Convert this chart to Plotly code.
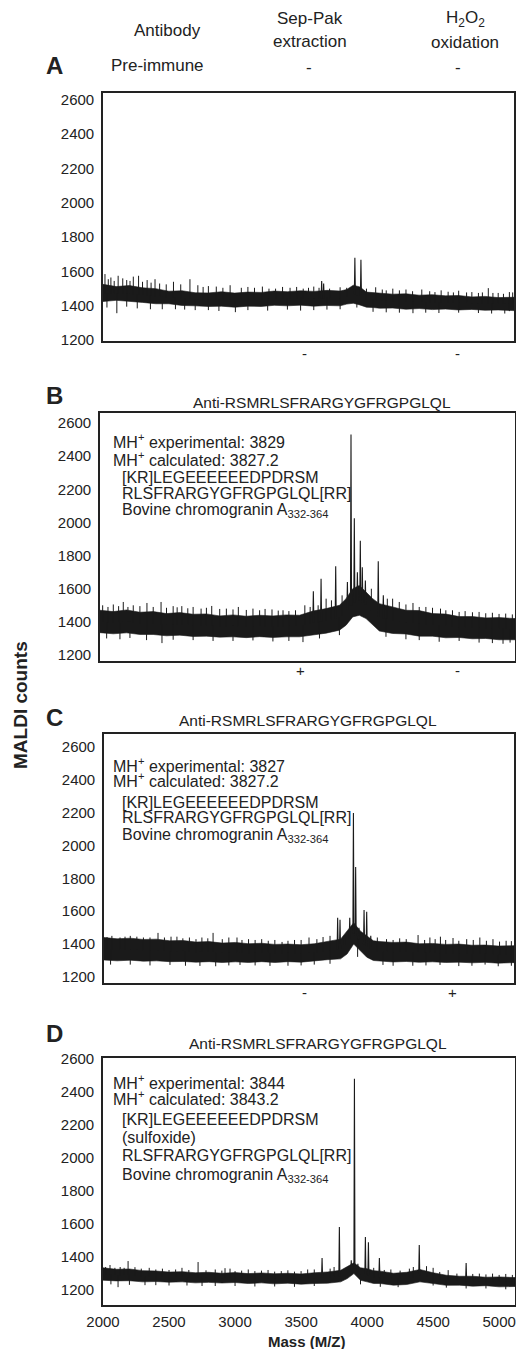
import plotly.graph_objects as go
import numpy as np

# ---------------- data ----------------
MASS = [2000, 2100, 2200, 2300, 2400, 2500, 2600, 2700, 2800, 2900, 3000, 3100,
        3200, 3300, 3400, 3500, 3600, 3700, 3800, 3850, 3900, 3950, 4000, 4050,
        4100, 4200, 4300, 4400, 4500, 4600, 4700, 4800, 4900, 5000, 5120]
X_TICKS = [2000, 2500, 3000, 3500, 4000, 4500, 5000]
Y_TICKS = [1200, 1400, 1600, 1800, 2000, 2200, 2400, 2600]

# Panel A  (pre-immune)
A_UPPER = [1525, 1512, 1518, 1505, 1500, 1485, 1488, 1476, 1475, 1482, 1474, 1480,
           1478, 1486, 1482, 1488, 1484, 1490, 1486, 1495, 1520, 1510, 1480, 1478,
           1476, 1468, 1470, 1462, 1465, 1458, 1460, 1452, 1455, 1448, 1450]
A_LOWER = [1425, 1432, 1424, 1420, 1412, 1412, 1402, 1400, 1396, 1398, 1392, 1398,
           1396, 1403, 1400, 1404, 1398, 1402, 1400, 1410, 1415, 1405, 1392, 1390,
           1386, 1387, 1380, 1384, 1378, 1381, 1376, 1379, 1374, 1376, 1372]
A_PEAKS = [(3660, 1545), (3675, 1530), (3912, 1680), (3958, 1668)]
A_SPIKES_UP = [(2015, 1585), (2040, 1555), (2060, 1565), (2085, 1545), (2115, 1575),
               (2150, 1560), (2180, 1550), (2205, 1545), (2230, 1570), (2270, 1575),
               (2300, 1540), (2335, 1550), (2365, 1535), (2395, 1555), (2430, 1530),
               (2480, 1525), (2535, 1540), (2590, 1525), (2660, 1555), (2720, 1520),
               (2760, 1510), (2800, 1515), (2860, 1512), (2910, 1505), (2965, 1520),
               (3050, 1505), (3100, 1510), (3150, 1505), (3210, 1512), (3260, 1500),
               (3310, 1500), (3363, 1510), (3420, 1505), (3470, 1510), (3520, 1500),
               (3560, 1505), (3600, 1512), (3640, 1505), (3720, 1500), (3800, 1508),
               (3850, 1505), (4000, 1500), (4070, 1508), (4120, 1495), (4150, 1490),
               (4200, 1500), (4250, 1490), (4300, 1495), (4350, 1485), (4420, 1495),
               (4480, 1485), (4520, 1480), (4567, 1490), (4620, 1482), (4660, 1478),
               (4700, 1488), (4760, 1478), (4800, 1480), (4850, 1475), (4880, 1478),
               (4925, 1503), (4960, 1475), (5000, 1475), (5040, 1470), (5085, 1480),
               (5110, 1478)]
A_SPIKES_DOWN = [(2030, 1390), (2105, 1357), (2180, 1395), (2260, 1385), (2360, 1380),
                 (2450, 1380), (2550, 1380), (2620, 1378), (2700, 1375), (2800, 1375),
                 (2880, 1370), (3005, 1363), (3100, 1375), (3250, 1372), (3400, 1378),
                 (3500, 1372), (3600, 1375), (3700, 1378), (3800, 1380), (3927, 1390),
                 (4050, 1365), (4150, 1362), (4250, 1360), (4353, 1357), (4450, 1360),
                 (4550, 1358), (4700, 1360), (4850, 1358), (4950, 1355), (5050, 1355),
                 (5085, 1369)]

# Panel B  (anti-peptide, Sep-Pak +, H2O2 -)
B_UPPER = [1470, 1462, 1472, 1458, 1462, 1450, 1456, 1446, 1448, 1436, 1442, 1434,
           1440, 1436, 1442, 1440, 1465, 1480, 1500, 1540, 1600, 1620, 1580, 1540,
           1510, 1490, 1470, 1468, 1450, 1447, 1432, 1432, 1424, 1426, 1420]
B_LOWER = [1335, 1328, 1334, 1324, 1324, 1316, 1320, 1312, 1314, 1308, 1310, 1305,
           1311, 1306, 1310, 1310, 1322, 1332, 1350, 1380, 1430, 1440, 1420, 1380,
           1345, 1330, 1327, 1314, 1314, 1304, 1306, 1298, 1300, 1292, 1292]
B_PEAKS = [(3604, 1585), (3662, 1660), (3772, 1735), (3860, 1640), (3887, 2530),
           (3912, 2025), (3935, 1700), (3957, 1890), (3972, 1730), (3995, 1650),
           (4092, 1765), (4130, 1560)]
B_SPIKES_UP = [(2020, 1500), (2060, 1490), (2100, 1505), (2140, 1495), (2175, 1520),
               (2210, 1490), (2250, 1500), (2300, 1495), (2353, 1514), (2400, 1490),
               (2459, 1520), (2500, 1485), (2550, 1495), (2580, 1488), (2615, 1495),
               (2660, 1482), (2700, 1490), (2760, 1480), (2800, 1485), (2840, 1496),
               (2900, 1478), (2950, 1480), (3000, 1475), (3040, 1490), (3100, 1472),
               (3150, 1480), (3200, 1470), (3241, 1478), (3293, 1475), (3340, 1468),
               (3376, 1470), (3420, 1465), (3470, 1470), (3540, 1500), (3580, 1490),
               (3640, 1500), (3700, 1540), (3740, 1530), (3820, 1560), (4040, 1600),
               (4160, 1540), (4200, 1540), (4250, 1520), (4300, 1505), (4353, 1514),
               (4400, 1490), (4450, 1490), (4500, 1485), (4560, 1480), (4600, 1470),
               (4650, 1470), (4700, 1460), (4745, 1465), (4800, 1458), (4850, 1460),
               (4900, 1452), (4950, 1455), (5000, 1448), (5050, 1450), (5100, 1445)]
B_SPIKES_DOWN = [(2050, 1300), (2150, 1295), (2225, 1303), (2350, 1290), (2466, 1272),
                 (2550, 1292), (2700, 1290), (2850, 1285), (3000, 1285), (3150, 1288),
                 (3300, 1282), (3420, 1285), (3526, 1278), (3650, 1300), (3800, 1320),
                 (4150, 1310), (4300, 1295), (4400, 1290), (4550, 1280), (4700, 1285),
                 (4850, 1275), (4950, 1272), (5030, 1268), (5083, 1275)]

# Panel C  (anti-peptide, Sep-Pak -, H2O2 +)
C_UPPER = [1440, 1432, 1436, 1428, 1430, 1420, 1422, 1412, 1415, 1406, 1410, 1402,
           1405, 1398, 1400, 1396, 1402, 1415, 1430, 1480, 1530, 1480, 1450, 1420,
           1415, 1410, 1412, 1402, 1404, 1398, 1400, 1393, 1394, 1388, 1390]
C_LOWER = [1303, 1298, 1302, 1296, 1298, 1293, 1294, 1290, 1293, 1288, 1292, 1288,
           1293, 1288, 1293, 1290, 1297, 1305, 1310, 1340, 1400, 1360, 1320, 1300,
           1296, 1291, 1294, 1289, 1292, 1288, 1290, 1286, 1289, 1284, 1287]
C_PEAKS = [(3778, 1560), (3796, 1548), (3830, 1450), (3870, 1560), (3898, 2198),
           (3915, 1870), (3940, 1500), (3979, 1608), (3999, 1597), (4030, 1450)]
C_SPIKES_UP = [(2023, 1443), (2060, 1450), (2122, 1440), (2160, 1445), (2200, 1450),
               (2250, 1445), (2300, 1440), (2350, 1440), (2411, 1468), (2460, 1440),
               (2510, 1445), (2555, 1445), (2600, 1435), (2650, 1440), (2700, 1430),
               (2745, 1440), (2790, 1435), (2830, 1468), (2900, 1430), (2950, 1440),
               (3012, 1440), (3050, 1425), (3100, 1430), (3150, 1425), (3200, 1430),
               (3250, 1420), (3300, 1425), (3355, 1413), (3400, 1420), (3450, 1425),
               (3500, 1425), (3560, 1440), (3620, 1430), (3667, 1443), (3720, 1450),
               (4080, 1440), (4150, 1430), (4200, 1425), (4250, 1435), (4300, 1430),
               (4390, 1455), (4440, 1425), (4480, 1440), (4520, 1430), (4560, 1445),
               (4600, 1425), (4656, 1437), (4700, 1420), (4760, 1430), (4810, 1425),
               (4860, 1440), (4910, 1420), (4960, 1430), (5010, 1415), (5060, 1420),
               (5100, 1418)]
C_SPIKES_DOWN = [(2050, 1275), (2200, 1275), (2350, 1270), (2502, 1273), (2620, 1268),
                 (2730, 1267), (2850, 1265), (2950, 1270), (3035, 1273), (3150, 1270),
                 (3263, 1267), (3400, 1268), (3500, 1270), (3600, 1275), (3720, 1280),
                 (3930, 1322), (4123, 1273), (4200, 1268), (4350, 1268), (4450, 1270),
                 (4557, 1273), (4700, 1266), (4800, 1268), (4900, 1275), (5000, 1265),
                 (5100, 1268)]

# Panel D  (sulfoxide)
D_UPPER = [1335, 1326, 1328, 1318, 1316, 1309, 1312, 1305, 1308, 1302, 1306, 1300,
           1304, 1299, 1302, 1298, 1305, 1310, 1320, 1340, 1365, 1335, 1330, 1318,
           1315, 1302, 1308, 1325, 1305, 1290, 1284, 1284, 1278, 1280, 1276]
D_LOWER = [1260, 1256, 1257, 1250, 1252, 1248, 1250, 1244, 1247, 1243, 1246, 1240,
           1244, 1238, 1242, 1236, 1240, 1242, 1250, 1270, 1300, 1260, 1250, 1240,
           1240, 1230, 1234, 1250, 1240, 1229, 1230, 1224, 1227, 1220, 1222]
D_PEAKS = [(3659, 1394), (3790, 1582), (3880, 1380), (3904, 2479), (3930, 1360),
           (3987, 1521), (4010, 1490), (4093, 1394), (4395, 1473), (4750, 1364)]
D_SPIKES_UP = [(2020, 1340), (2053, 1352), (2090, 1335), (2130, 1340), (2160, 1335),
               (2190, 1376), (2242, 1339), (2290, 1330), (2350, 1335), (2400, 1325),
               (2450, 1330), (2500, 1322), (2550, 1325), (2598, 1335), (2650, 1322),
               (2720, 1370), (2780, 1320), (2850, 1325), (2900, 1318), (2924, 1333),
               (2962, 1330), (3000, 1315), (3050, 1318), (3100, 1325), (3150, 1315),
               (3200, 1318), (3250, 1322), (3300, 1312), (3350, 1315), (3400, 1320),
               (3450, 1312), (3500, 1315), (3550, 1325), (3600, 1325), (3720, 1330),
               (3750, 1340), (4050, 1335), (4130, 1322), (4180, 1325), (4250, 1318),
               (4320, 1330), (4350, 1340), (4450, 1345), (4500, 1335), (4550, 1310),
               (4614, 1321), (4680, 1300), (4800, 1298), (4850, 1300), (4900, 1295),
               (4950, 1300), (5000, 1292), (5050, 1298), (5100, 1292)]
D_SPIKES_DOWN = [(2060, 1235), (2114, 1218), (2200, 1232), (2318, 1230), (2400, 1230),
                 (2500, 1228), (2636, 1228), (2750, 1225), (2850, 1225), (3000, 1225),
                 (3150, 1222), (3300, 1222), (3450, 1220), (3600, 1225), (3950, 1235),
                 (4100, 1220), (4235, 1218), (4500, 1228), (4600, 1215), (4750, 1210),
                 (4900, 1210), (5050, 1205)]

# ---------------- layout geometry (pixels) ----------------
W, H = 516, 1349
# (left, right, top, bottom) of each plot box, and y range
BOXES = [(103, 514, 93, 341), (100, 515, 413, 661), (104, 514, 734, 983), (103, 515, 1058, 1305)]
Y_RANGES = [(1195, 2640), (1164, 2660), (1163, 2679), (1110, 2605)]
X_RANGE = (2000, 5120)

PANELS = [
    (A_UPPER, A_LOWER, A_PEAKS, A_SPIKES_UP, A_SPIKES_DOWN),
    (B_UPPER, B_LOWER, B_PEAKS, B_SPIKES_UP, B_SPIKES_DOWN),
    (C_UPPER, C_LOWER, C_PEAKS, C_SPIKES_UP, C_SPIKES_DOWN),
    (D_UPPER, D_LOWER, D_PEAKS, D_SPIKES_UP, D_SPIKES_DOWN),
]

FONT = "Liberation Sans, Arial, Helvetica, sans-serif"
INK = "#1a1a1a"

fig = go.Figure()

for i, (up, lo, peaks, sp_up, sp_dn) in enumerate(PANELS):
    n = "" if i == 0 else str(i + 1)
    xa, ya = "x" + n, "y" + n
    center = (np.array(up) + np.array(lo)) / 2.0

    # noise band
    fig.add_trace(go.Scatter(
        x=MASS + MASS[::-1], y=up + lo[::-1], mode="lines", fill="toself",
        fillcolor=INK, line=dict(color=INK, width=0.6),
        xaxis=xa, yaxis=ya, hoverinfo="skip", showlegend=False))

    # noise spikes (up and down)
    sx, sy = [], []
    for m, v in sp_up + sp_dn:
        b = float(np.interp(m, MASS, center))
        sx += [m, m, None]
        sy += [b, v, None]
    fig.add_trace(go.Scatter(
        x=sx, y=sy, mode="lines", line=dict(color=INK, width=1),
        xaxis=xa, yaxis=ya, hoverinfo="skip", showlegend=False))

    # peaks
    px, py = [], []
    for m, v in peaks:
        b = float(np.interp(m, MASS, center))
        px += [m - 4, m, m + 4, None]
        py += [b, v, b, None]
    fig.add_trace(go.Scatter(
        x=px, y=py, mode="lines", line=dict(color=INK, width=1.1),
        xaxis=xa, yaxis=ya, hoverinfo="skip", showlegend=False))

    l, r, t, b = BOXES[i]
    axis_common = dict(showline=True, mirror=True, linecolor="#222", linewidth=1.6,
                       ticks="", showgrid=False, zeroline=False, automargin=False,
                       tickfont=dict(family=FONT, size=15, color="#222"))
    show_x = (i == 3)
    fig.layout["xaxis" + n] = dict(
        domain=[l / W, r / W], range=list(X_RANGE), anchor=ya,
        tickvals=X_TICKS if show_x else [], showticklabels=show_x,
        ticklabelstandoff=2, **axis_common)
    fig.layout["yaxis" + n] = dict(
        domain=[1 - b / H, 1 - t / H], range=list(Y_RANGES[i]), anchor=xa,
        tickvals=Y_TICKS, ticklabelstandoff=4, **axis_common)

# ---------------- annotations ----------------
def txt(s, x, y, size=15, bold=False, xanchor="center", textangle=0):
    if bold:
        s = "<b>" + s + "</b>"
    fig.add_annotation(text=s, x=x / W, y=1 - y / H, xref="paper", yref="paper",
                       xanchor=xanchor, yanchor="middle", showarrow=False,
                       textangle=textangle,
                       font=dict(family=FONT, size=size, color="#222"))

# header
txt("Antibody", 167, 30, size=17)
txt("Sep-Pak", 310, 18, size=17)
txt("extraction", 310, 41, size=17)
txt("H<sub>2</sub>O<sub>2</sub>", 465, 19, size=17)
txt("oxidation", 465, 43, size=17)

# panel letters
for letter, y in [("A", 65), ("B", 395), ("C", 717), ("D", 1033)]:
    txt(letter, 54, y, size=24, bold=True)

txt("Pre-immune", 157, 65, size=17)
txt("-", 309, 68, size=17)
txt("-", 458, 68, size=17)

# +/- markers under panels
txt("-", 304, 353)
txt("-", 457, 353)
txt("+", 300, 670)
txt("-", 457, 670)
txt("-", 304, 992)
txt("+", 452, 992)

# titles
TITLE = "Anti-RSMRLSFRARGYGFRGPGLQL"
txt(TITLE, 322, 402, size=15.5)
txt(TITLE, 308, 720, size=15.5)
txt(TITLE, 318, 1043, size=15.5)

SUB = "Bovine chromogranin A<sub>332-364</sub>"
FS = 16
# panel B
txt("MH<sup>+</sup> experimental: 3829", 111, 441, size=FS, xanchor="left")
txt("MH<sup>+</sup> calculated: 3827.2", 111, 459, size=FS, xanchor="left")
txt("[KR]LEGEEEEEEDPDRSM", 120, 477, size=FS, xanchor="left")
txt("RLSFRARGYGFRGPGLQL[RR]", 120, 493, size=FS, xanchor="left")
txt(SUB, 120, 510, size=FS, xanchor="left")
# panel C
txt("MH<sup>+</sup> experimental: 3827", 111, 765, size=FS, xanchor="left")
txt("MH<sup>+</sup> calculated: 3827.2", 111, 780, size=FS, xanchor="left")
txt("[KR]LEGEEEEEEDPDRSM", 120, 802, size=FS, xanchor="left")
txt("RLSFRARGYGFRGPGLQL[RR]", 120, 817, size=FS, xanchor="left")
txt(SUB, 120, 835, size=FS, xanchor="left")
# panel D
txt("MH<sup>+</sup> experimental: 3844", 111, 1082, size=FS, xanchor="left")
txt("MH<sup>+</sup> calculated: 3843.2", 111, 1098, size=FS, xanchor="left")
txt("[KR]LEGEEEEEEDPDRSM", 120, 1119, size=FS, xanchor="left")
txt("(sulfoxide)", 120, 1137, size=FS, xanchor="left")
txt("RLSFRARGYGFRGPGLQL[RR]", 120, 1155, size=FS, xanchor="left")
txt(SUB, 120, 1175, size=FS, xanchor="left")

# axis titles
txt("MALDI counts", 20, 705, size=19, bold=True, textangle=-90)
txt("Mass (M/Z)", 307, 1341, size=15, bold=True)

fig.update_layout(width=W, height=H, margin=dict(l=0, r=0, t=0, b=0),
                  paper_bgcolor="white", plot_bgcolor="white", showlegend=False)

fig.write_html("out.html")
